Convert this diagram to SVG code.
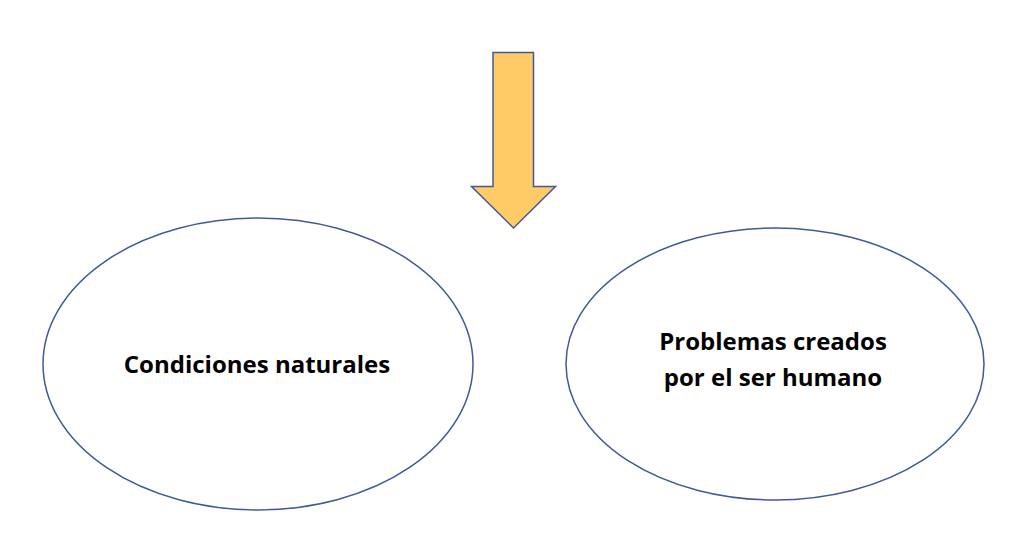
<svg xmlns="http://www.w3.org/2000/svg" width="1024" height="560" viewBox="0 0 1024 560">
<style>
.node{fill:#ffffff;stroke:#3f5a9a;stroke-width:1.5}
.label{font-family:"Open Sans","Liberation Sans",sans-serif;font-weight:bold;font-size:24px;fill:#000;text-anchor:middle}
.arrow{fill:#ffcb66;stroke:#3f5a9a;stroke-width:1.5;stroke-linejoin:miter}
</style>
<rect width="1024" height="560" fill="#ffffff"/>
<g id="connectors">
<polygon class="arrow" points="493,52.5 533.5,52.5 533.5,186.5 555.5,186.5 513.5,228 471.5,186.5 493,186.5"/>
</g>
<g id="node-condiciones">
<ellipse class="node" cx="258" cy="364" rx="215" ry="146"/>
<text class="label" x="257" y="373">Condiciones naturales</text>
</g>
<g id="node-problemas">
<ellipse class="node" cx="775" cy="364" rx="209" ry="136"/>
<text class="label" x="773" y="350">Problemas creados</text>
<text class="label" x="773" y="386">por el ser humano</text>
</g>
</svg>
